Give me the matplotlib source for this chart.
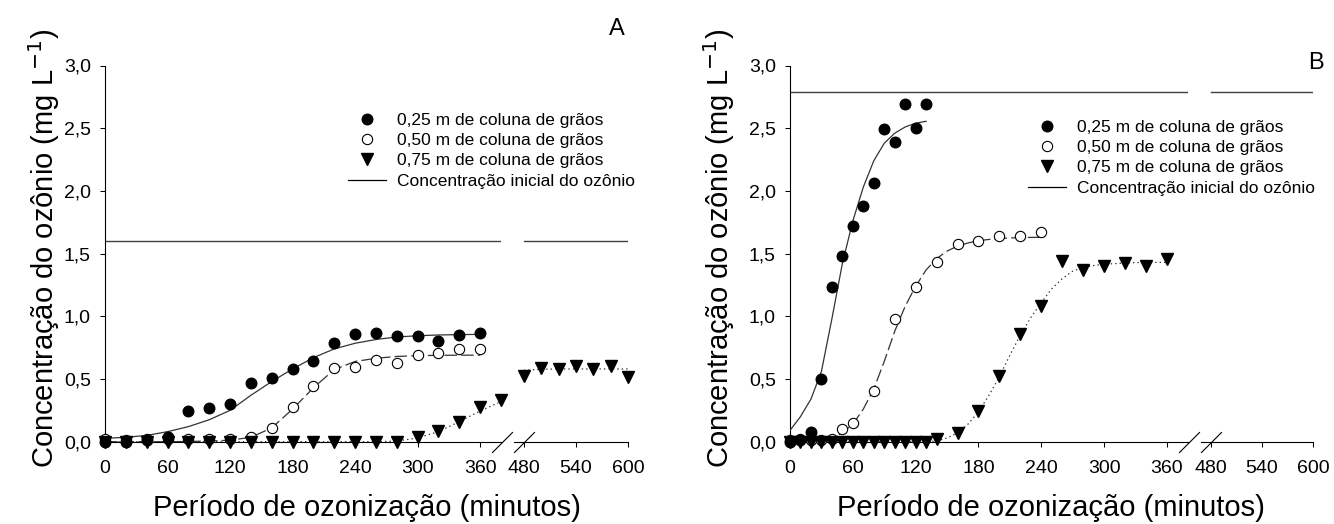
import matplotlib
matplotlib.use("Agg")
import matplotlib.pyplot as plt
from matplotlib.lines import Line2D
from matplotlib.ticker import FuncFormatter

plt.rcParams['font.family'] = ['Liberation Sans', 'DejaVu Sans']
plt.rcParams['lines.scale_dashes'] = False

# ---- panel A data (minutes, mg/L) ----
a_t = [0, 20, 40, 60, 80, 100, 120, 140, 160, 180, 200, 220, 240, 260, 280, 300, 320, 340, 360]
a_025 = [0.0, 0.0, 0.01, 0.04, 0.245, 0.27, 0.298, 0.466, 0.505, 0.577, 0.645, 0.785, 0.859, 0.864, 0.843, 0.843, 0.806, 0.848, 0.864]
a_050 = [0.02, 0.01, 0.02, 0.02, 0.02, 0.02, 0.02, 0.04, 0.11, 0.274, 0.447, 0.59, 0.598, 0.652, 0.625, 0.691, 0.705, 0.739, 0.739]
a_t075 = [0, 20, 40, 60, 80, 100, 120, 140, 160, 180, 200, 220, 240, 260, 280, 300, 320, 340, 360, 380]
a_075 = [0.0, 0.0, 0.0, 0.0, 0.0, 0.0, 0.0, 0.0, 0.0, 0.0, 0.0, 0.0, 0.0, 0.0, 0.0, 0.04, 0.085, 0.16, 0.274, 0.333]
a_t075_late = [480, 500, 520, 540, 560, 580, 600]
a_075_late = [0.524, 0.59, 0.577, 0.604, 0.577, 0.606, 0.518]

# fitted curves
a_fit_025 = [0.027, 0.035, 0.05, 0.08, 0.12, 0.175, 0.25, 0.37, 0.48, 0.58, 0.67, 0.74, 0.785, 0.815, 0.835, 0.845, 0.851, 0.854, 0.856]
a_fit_050 = [0.0, 0.0, 0.0, 0.0, 0.002, 0.005, 0.012, 0.035, 0.11, 0.26, 0.43, 0.575, 0.64, 0.665, 0.68, 0.686, 0.689, 0.69, 0.69]
a_fit_075 = [0.0, 0.0, 0.0, 0.0, 0.0, 0.0, 0.0, 0.0, 0.0, 0.0, 0.0, 0.0, 0.0, 0.0, 0.005, 0.03, 0.08, 0.16, 0.245, 0.32]
a_fit_075_late = [0.57, 0.578, 0.58, 0.58, 0.58, 0.58, 0.58]
a_init = 1.6

# ---- panel B data ----
b_t025 = [0, 10, 20, 30, 40, 50, 60, 70, 80, 90, 100, 110, 120, 130]
b_025 = [0.0, 0.01, 0.08, 0.497, 1.231, 1.483, 1.723, 1.882, 2.06, 2.494, 2.393, 2.693, 2.504, 2.693]
b_t050 = [0, 10, 20, 30, 40, 50, 60, 80, 100, 120, 140, 160, 180, 200, 220, 240]
b_050 = [0.013, 0.02, 0.01, 0.01, 0.02, 0.099, 0.152, 0.404, 0.978, 1.231, 1.435, 1.574, 1.603, 1.64, 1.64, 1.675]
b_t075 = [0, 10, 20, 30, 40, 50, 60, 70, 80, 90, 100, 110, 120, 130, 140,
          160, 180, 200, 220, 240, 260, 280, 300, 320, 340, 360]
b_075 = [0.0, 0.0, 0.0, 0.0, 0.0, 0.0, 0.0, 0.0, 0.0, 0.0, 0.0, 0.0, 0.0, 0.0, 0.019,
         0.067, 0.247, 0.527, 0.859, 1.082, 1.441, 1.369, 1.401, 1.428, 1.401, 1.454]

b_fit_t025 = [0, 10, 20, 30, 40, 50, 60, 70, 80, 90, 100, 110, 120, 130]
b_fit_025 = [0.09, 0.2, 0.34, 0.56, 0.98, 1.42, 1.76, 2.03, 2.24, 2.38, 2.46, 2.51, 2.54, 2.555]
b_fit_t050 = [0, 10, 20, 30, 40, 50, 60, 70, 80, 90, 100, 110, 120, 130, 140, 150, 160,
              170, 180, 190, 200, 210, 220, 230, 240]
b_fit_050 = [0.0, 0.0, 0.005, 0.012, 0.03, 0.07, 0.14, 0.26, 0.42, 0.64, 0.88, 1.08, 1.24, 1.37,
             1.46, 1.52, 1.56, 1.585, 1.603, 1.613, 1.62, 1.625, 1.627, 1.629, 1.63]
b_fit_t075 = [0, 10, 20, 30, 40, 50, 60, 70, 80, 90, 100, 110, 120, 130, 140, 150, 160, 170, 180,
              190, 200, 210, 220, 230, 240, 250, 260, 270, 280, 290, 300, 310, 320, 330, 340, 350, 360]
b_fit_075 = [0.0, 0.0, 0.0, 0.0, 0.0, 0.0, 0.0, 0.0, 0.0, 0.0, 0.0, 0.0, 0.0, 0.0, 0.005, 0.03, 0.07,
             0.14, 0.24, 0.37, 0.52, 0.69, 0.85, 0.99, 1.11, 1.22, 1.30, 1.36, 1.39, 1.405, 1.415,
             1.42, 1.425, 1.428, 1.43, 1.43, 1.43]
b_init = 2.785

init_span_early = [0, 380]
init_span_late = [480, 600]

labels = ['0,25 m de coluna de grãos', '0,50 m de coluna de grãos',
          '0,75 m de coluna de grãos', 'Concentração inicial do ozônio']
xlabel = 'Período de ozonização (minutos)'
ylabel = 'Concentração do ozônio (mg L$^{-1}$)'

W, H = 1334, 524
fig = plt.figure(figsize=(W / 100, H / 100), dpi=100)

Y0, Y3 = 441.7, 65.5   # pixel rows of y=0 and y=3


def px_axes(x0, x1):
    return fig.add_axes([x0 / W, (H - Y0) / H, (x1 - x0) / W, (Y0 - Y3) / H])


yfmt = FuncFormatter(lambda v, p: f"{v:.1f}".replace('.', ','))
tick_kw = dict(direction='out', length=3.6, width=0.75, labelsize=14, color='black')
filled = dict(marker='o', ms=7.6, mfc='black', mec='black', ls='none', clip_on=False, zorder=5)
hollow = dict(marker='o', ms=7.4, mfc='white', mec='black', mew=0.8, ls='none', clip_on=False, zorder=4)
tri = dict(marker='v', ms=8.6, mfc='black', mec='black', ls='none', clip_on=False, zorder=6)
fitc = '#333333'
brk = dict(marker=[(-1, -1), (1, 1)], ms=15, mew=0.8, color='black', ls='none', clip_on=False)


def make_panel(xl0, xl1, xr0, xr1):
    axl = px_axes(xl0, xl1)
    axr = px_axes(xr0, xr1)
    axl.set_xlim(0, 380)
    axr.set_xlim(455, 600)
    for ax in (axl, axr):
        ax.set_ylim(0, 3)
        ax.spines['top'].set_visible(False)
        ax.spines['right'].set_visible(False)
        ax.tick_params(axis='both', **tick_kw)
        ax.tick_params(axis='x', pad=9.5)
        ax.tick_params(axis='y', pad=6.5)
        ax.patch.set_alpha(0)
        for s in ax.spines.values():
            s.set_linewidth(0.8)
    axl.spines['bottom'].set_bounds(0, 381)
    axl.spines['left'].set_bounds(0, 3)
    axl.set_xticks([0, 60, 120, 180, 240, 300, 360])
    axl.set_yticks([0, 0.5, 1.0, 1.5, 2.0, 2.5, 3.0])
    axl.yaxis.set_major_formatter(yfmt)
    axr.spines['left'].set_visible(False)
    axr.spines['bottom'].set_bounds(468, 600)
    axr.set_yticks([])
    axr.set_xticks([480, 540, 600])
    axl.plot([381], [0], **brk)
    axr.plot([480], [0], **brk)
    return axl, axr


# ---- panel A ----
axl, axr = make_panel(105, 501, 502.3, 628)
axl.plot(init_span_early, [a_init, a_init], color='#404040', lw=1.0)
axr.plot(init_span_late, [a_init, a_init], color='#404040', lw=1.0)
axl.plot(a_t, a_fit_025, color=fitc, lw=0.9, zorder=3)
axl.plot(a_t, a_fit_050, color=fitc, lw=0.9, dashes=(9, 3), zorder=3)
axl.plot(a_t075, a_fit_075, color=fitc, lw=0.9, dashes=(1, 2.2), zorder=3)
axr.plot(a_t075_late, a_fit_075_late, color=fitc, lw=0.9, dashes=(1, 2.2), zorder=3)
axl.plot(a_t, a_025, **filled)
axl.plot(a_t, a_050, **hollow)
axl.plot(a_t075, a_075, **tri)
axr.plot(a_t075_late, a_075_late, **tri)
axes_a = axl

# ---- panel B ----
bxl, bxr = make_panel(790, 1187.9, 1189.75, 1313)
bxl.plot(init_span_early, [b_init, b_init], color='#404040', lw=1.0)
bxr.plot(init_span_late, [b_init, b_init], color='#404040', lw=1.0)
bxl.plot(b_fit_t025, b_fit_025, color=fitc, lw=0.9, zorder=3)
bxl.plot(b_fit_t050, b_fit_050, color=fitc, lw=0.9, dashes=(9, 3), zorder=3)
bxl.plot(b_fit_t075, b_fit_075, color=fitc, lw=0.9, dashes=(1, 2.2), zorder=3)
bxl.plot(b_t025, b_025, **filled)
bxl.plot(b_t050, b_050, **hollow)
bxl.plot(b_t075, b_075, **tri)

# ---- legends ----
handles = [Line2D([], [], **{k: v for k, v in filled.items() if k != 'clip_on'}),
           Line2D([], [], **{k: v for k, v in hollow.items() if k != 'clip_on'}),
           Line2D([], [], **{k: v for k, v in tri.items() if k != 'clip_on'}),
           Line2D([], [], color='black', lw=0.9)]
for ax, (lx, ly) in ((axes_a, (348, 112.5)), (bxl, (1028, 119.5))):
    ax.legend(handles, labels, loc='upper left', bbox_to_anchor=(lx / W, 1 - ly / H),
              bbox_transform=fig.transFigure, frameon=False, fontsize=12.5,
              handlelength=2.2, handletextpad=0.65, labelspacing=0.3,
              borderpad=0, borderaxespad=0)

# ---- axis titles and panel letters ----
for cx in (367, 1051):
    fig.text(cx / W, 1 - 508 / H, xlabel, ha='center', va='center', fontsize=21)
for cx in (44, 719):
    fig.text(cx / W, 1 - 248 / H, ylabel, ha='center', va='center', rotation=90, fontsize=21)
fig.text(617 / W, 1 - 29 / H, 'A', ha='center', va='center', fontsize=17)
fig.text(1316 / W, 1 - 63 / H, 'B', ha='center', va='center', fontsize=17)

fig.savefig('out.png', dpi=100)
